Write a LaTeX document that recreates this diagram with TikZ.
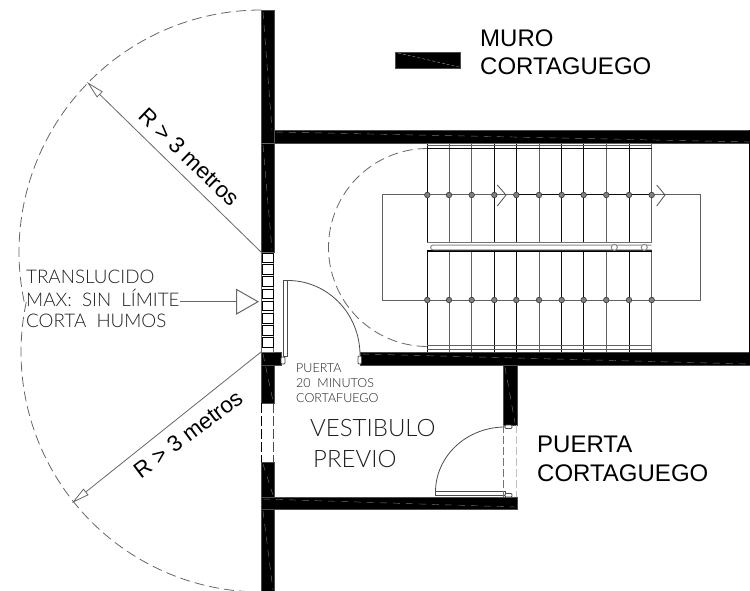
\documentclass[tikz,border=0pt]{standalone}
\usepackage{fontspec}
\usetikzlibrary{arrows.meta}
\setmainfont{Liberation Sans}
\newfontfamily\cad{Lato Light}
\definecolor{cadgray}{gray}{0.12}
\definecolor{lnA}{gray}{0.05}
\definecolor{lnB}{gray}{0.38}
\tikzset{
  wall/.style={fill=black,draw=black!70,line width=0.4pt},
  wallmark/.style={draw=black!55,line width=0.45pt,dash pattern=on 7pt off 6pt},
  thinline/.style={draw=lnB,line width=1pt},
  blackline/.style={draw=lnA,line width=1pt},
  radius line/.style={draw=black!60,line width=0.8pt,-{Triangle[open,length=18pt,width=8pt]}},
  limit arc/.style={draw=black!60,line width=0.8pt,dash pattern=on 10pt off 5pt},
  doorline/.style={draw=black!70,line width=0.8pt},
  pane/.style={fill=white,draw=black,line width=0.7pt},
  stud/.style={circle,draw=black!75,fill=black!50,line width=0.7pt,minimum size=5.5pt,inner sep=0pt},
  railstud/.style={circle,draw=black!50,fill=white,line width=0.9pt,minimum size=6pt,inner sep=0pt},
  arial/.style={inner sep=0pt,anchor=base west,text=black,font=\fontsize{24}{24}\selectfont},
  cadsmall/.style={inner sep=0pt,anchor=base west,text=cadgray,font=\cad\fontsize{12.5}{12.5}\selectfont},
  cadmid/.style={inner sep=0pt,anchor=base west,text=cadgray,font=\cad\fontsize{18.8}{18.8}\selectfont},
  cadbig/.style={inner sep=0pt,anchor=base west,text=cadgray,font=\cad\fontsize{24}{24}\selectfont},
  radlabel/.style={inner sep=0pt,text=black,font=\fontsize{22.5}{22.5}\selectfont},
}
\begin{document}
\begin{tikzpicture}[x=1pt,y=-1pt]
\useasboundingbox (0,0) rectangle (750,591);
% ---- walls
\path[wall] (261,10) rectangle (274,252);
\path[wall] (261,352) rectangle (274,403);
\path[wall] (261,462) rectangle (274,591);
\path[wall] (274,130) rectangle (750,143);
\path[wall] (261,352) rectangle (281,365);
\path[wall] (360,352) rectangle (750,365);
\path[wall] (503,365) rectangle (517,425);
\path[wall] (261,497) rectangle (517,509);
\fill[black] (748.8,130) rectangle (750,365);
% wall centre marks
\draw[wallmark] (263,12) -- (272,130);
\draw[wallmark] (263,145) -- (272,250);
\draw[draw=black!60,line width=0.5pt] (261,143) -- (274,143);
\draw[wallmark] (276,132) -- (750,142);
\draw[wallmark] (362,354) -- (750,364);
\draw[wallmark] (505,367) -- (515,423);
\draw[wallmark] (263,354) -- (273,401);
\draw[wallmark] (263,464) -- (273,495);
\draw[wallmark] (263,499) -- (515,507);
\draw[wallmark] (263,511) -- (273,590);
% opening in the lower wall
\draw[draw=black,line width=0.9pt,dash pattern=on 10pt off 3pt] (261.5,403) -- (261.5,462);
\draw[draw=black!70,line width=0.9pt,dash pattern=on 10pt off 3pt] (273.5,403) -- (273.5,462);
% ---- window
\draw[pane,draw=black!60] (261.5,252) rectangle (273.7,352);
\foreach \ya/\yb in {253/262,264.5/274,276.7/286,289/298,301/310.7,313/323,325.7/335,337.7/347}
  \draw[pane] (262.5,\ya) rectangle (273,\yb);
% ---- limit arcs
\draw[limit arc] plot[domain=-90:-192,samples=70] ({261+242*cos(\x)},{252+242*sin(\x)});
\draw[limit arc] plot[domain=192:90,samples=70] ({261+240*cos(\x)},{352+240*sin(\x)});
\coordinate (upA) at (261,252);
\coordinate (upB) at (87,82);
\coordinate (loA) at (261,352);
\coordinate (loB) at (72,503);
\draw[radius line] (upA) -- (upB);
\draw[radius line] (loA) -- (loB);
\node[radlabel,rotate=-44] (r1) at (189,157) {R > 3 metros};
\node[radlabel,rotate=37] (r2) at (188,434) {R > 3 metros};
% ---- translucent label
\node[cadmid] (t1) at (26,283) {TRANSLUCIDO};
\node[cadmid] (t2) at (26,306) {MAX:\ \ SIN\ \ LÍMITE};
\node[cadmid] (t3) at (26,327) {CORTA\ \ HUMOS};
\coordinate (wtip) at (259,301.7);
\draw[draw=black!60,line width=1pt,-{Triangle[open,length=23pt,width=26pt]}] (t2.east |- wtip) -- (wtip);
% ---- door 1
\draw[doorline,fill=white] (283,280.5) rectangle (287,356);
\draw[doorline] plot[domain=-90:0,samples=40] ({288+72*cos(\x)},{355+74.5*sin(\x)});
\draw[doorline,rounded corners=1pt,fill=white] (281,357) rectangle (285,364);
\draw[doorline,rounded corners=1pt,fill=white] (358,356) rectangle (361.5,364);
% ---- door 2
\draw[doorline,fill=white] (435.5,491.5) rectangle (505,495);
\draw[doorline] plot[domain=-90:-180,samples=40] ({505+69.5*cos(\x)},{492+65*sin(\x)});
\draw[doorline,rounded corners=1pt,fill=white] (505,425) rectangle (512,428.5);
\draw[doorline,rounded corners=1pt,fill=white] (505,493.5) rectangle (512,497);
\draw[draw=black!55,line width=1.4pt,dash pattern=on 8pt off 3pt] (503.5,425) -- (503.5,497);
\draw[draw=black!25,line width=0.8pt,dash pattern=on 8pt off 3pt] (516,425) -- (516,497);
% ---- stairs
\draw[limit arc] plot[domain=-90:-270,samples=70] ({427.5+99*cos(\x)},{247.5+99*sin(\x)});
\draw[thinline] (382.3,195) rectangle (700.3,300);
\draw[blackline] (516.3,195) -- (652,195);
\foreach \k/\px in {0/427.3,1/449,2/471.7,3/494.3,4/516.3,5/539,6/561.7,7/583.7,8/606.3,9/629,10/651.7}{
  \pgfmathparse{int(mod(\k,3)==0 || \k==4 || \k==7)}
  \ifnum\pgfmathresult=1
    \draw[blackline] (\px,143) -- (\px,242.7);
    \draw[blackline] (\px,251.3) -- (\px,352);
  \else
    \draw[thinline] (\px,143) -- (\px,242.7);
    \draw[thinline] (\px,251.3) -- (\px,352);
  \fi
  \node[stud] (sa\k) at (\px,195) {};
  \node[stud] (sb\k) at (\px,300) {};
}
\draw[thinline] (427.3,143.6) -- (651.7,143.6);
\draw[thinline] (427.3,146) -- (651.7,146);
\draw[blackline] (427.3,148.4) -- (651.7,148.4);
\draw[thinline] (427.3,345.7) -- (651.7,345.7);
\draw[thinline] (427.3,349) -- (651.7,349);
% handrail
\draw[draw=black!55,line width=1.3pt] (427.3,242.7) -- (651.7,242.7);
\draw[draw=black,line width=1.3pt] (427.3,251) -- (651.7,251);
\draw[draw=black!45,line width=1pt] (651.7,245) -- (433,245) arc[start angle=90,end angle=270,radius=2.4pt] -- (651.7,249.8);
\node[railstud] (ra) at (614.3,247.4) {};
\node[railstud] (rb) at (644.3,247.4) {};
% direction chevrons
\draw[draw=black!70,line width=0.8pt] (497.3,185) -- (506,195) -- (497.3,206);
\draw[draw=black!70,line width=0.8pt] (656.7,185) -- (665,195) -- (656.7,206);
% ---- cad labels
\node[cadsmall] (d1) at (296,372) {PUERTA};
\node[cadsmall] (d2) at (296,387) {20\ \ MINUTOS};
\node[cadsmall] (d3) at (296,402) {CORTAFUEGO};
\node[cadbig] (v1) at (310,436) {VESTIBULO};
\node[cadbig] (v2) at (313,467) {PREVIO};
% ---- legend
\path[wall] (395,52) rectangle (460,68);
\draw[draw=white!60!black,line width=0.4pt,dash pattern=on 3pt off 2pt] (398,53) -- (459,67);
\node[arial] (m1) at (480,47) {MURO};
\node[arial] (m2) at (480,75) {CORTAGUEGO};
\node[arial] (p1) at (537,452) {PUERTA};
\node[arial] (p2) at (537,481) {CORTAGUEGO};
\end{tikzpicture}
\end{document}
